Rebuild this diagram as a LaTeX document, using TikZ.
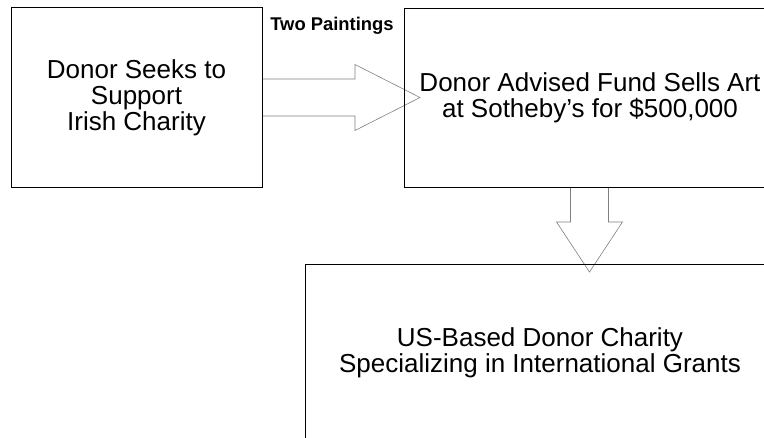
\documentclass[tikz,border=0pt]{standalone}
\usepackage{fontspec}
\setmainfont{Liberation Sans}
\usetikzlibrary{calc}
\begin{document}
\begin{tikzpicture}[x=1pt,y=-1pt,
  box/.style={draw=black,line width=0.8pt,align=center,inner sep=0pt,
    font=\fontsize{26}{26}\selectfont},
  fatarrow/.style={draw=black!50,line width=0.6pt,line join=miter},
  caption/.style={font=\fontsize{18.4}{20}\selectfont\bfseries}]
\useasboundingbox (0,0) rectangle (764,438);
\clip (0,0) rectangle (764,438);

% block arrows, drawn first so the box edges stay on top
\coordinate (s1) at (262,97.5);
\coordinate (t1) at (420,97.5);
\draw[fatarrow] ($(s1)+(0,-18.5)$) -- ($(t1)+(-65,-18.5)$) -- ($(t1)+(-65,-33)$)
  -- (t1) -- ($(t1)+(-65,33)$) -- ($(t1)+(-65,18.5)$) -- ($(s1)+(0,18.5)$);

\coordinate (s2) at (589.5,187);
\coordinate (t2) at (589.5,272);
\draw[fatarrow] ($(s2)+(-19,0)$) -- ($(t2)+(-19,-50)$) -- ($(t2)+(-33,-50)$)
  -- (t2) -- ($(t2)+(33,-50)$) -- ($(t2)+(19,-50)$) -- ($(s2)+(19,0)$);

% boxes
\node[box,minimum width=251,minimum height=180] (donor) at (136.5,97.5)
  {Donor Seeks to\\Support\\Irish Charity};
\node[box,minimum width=372,minimum height=179] (fund) at (590,97.5)
  {Donor Advised Fund Sells Art\\at Sotheby’s for \$500,000};
\node[box,minimum width=470,minimum height=178] (charity) at (540,353)
  {US-Based Donor Charity\\Specializing in International Grants};

\node[caption] (paint) at (332,26) {Two Paintings};
\end{tikzpicture}
\end{document}
